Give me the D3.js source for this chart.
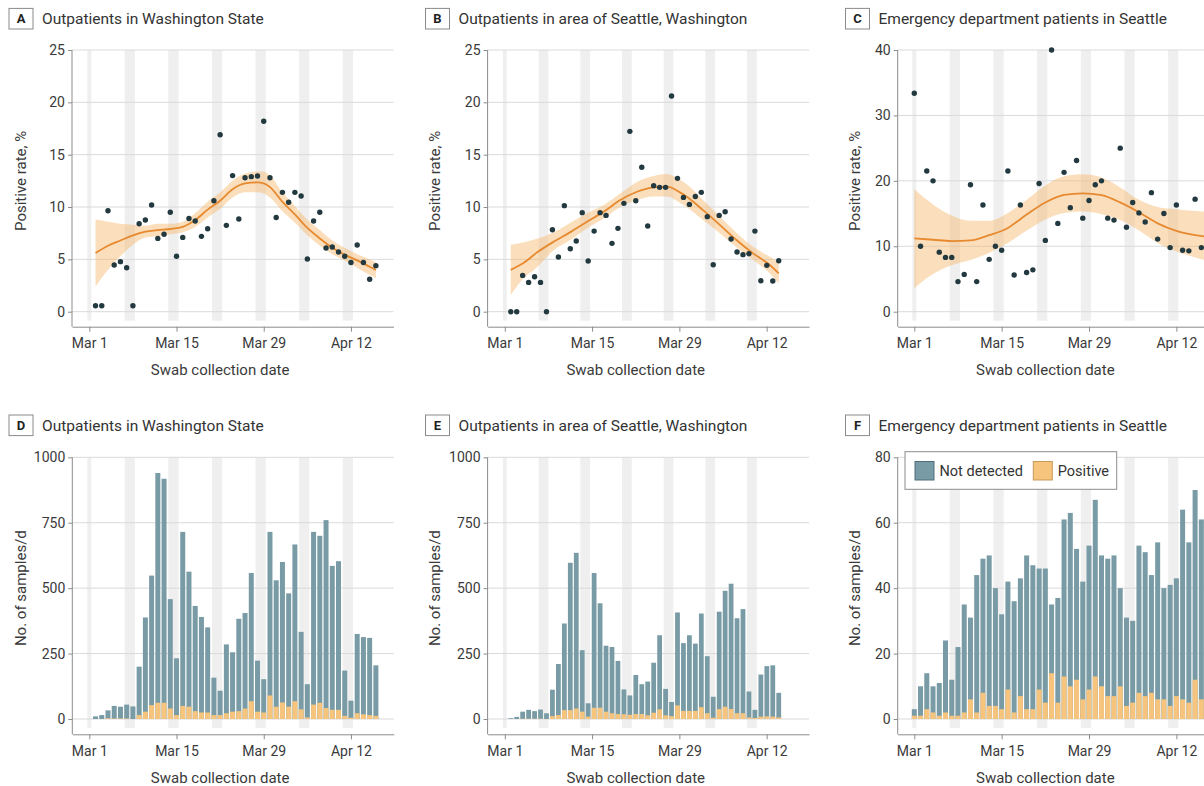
<!DOCTYPE html>
<html><head><meta charset="utf-8">
<script src="https://cdn.jsdelivr.net/npm/d3@7"></script>
<style>
body{margin:0;background:#fff;}
svg{display:block;font-family:Roboto,"Noto Sans",sans-serif;}
</style></head><body>
<svg id="chart" width="1204" height="786"></svg>
<script>
// ---------------- DATA ----------------
const tickDates = ["2020-03-01","2020-03-15","2020-03-29","2020-04-12"];
const tickLabels = ["Mar 1","Mar 15","Mar 29","Apr 12"];
const weekendRanges = [["2020-03-01","2020-03-01"],["2020-03-07","2020-03-08"],["2020-03-14","2020-03-15"],
  ["2020-03-21","2020-03-22"],["2020-03-28","2020-03-29"],["2020-04-04","2020-04-05"],["2020-04-11","2020-04-12"]];
const rateTicks = [0,5,10,15,20,25];
const rateTicksC = [0,10,20,30,40];
const countTicks = [0,250,500,750,1000];
const countTicksF = [0,20,40,60,80];

// Panel A: Outpatients in Washington State (Mar 2 - Apr 16)
const rateA = [0.57,0.57,9.65,4.46,4.78,4.2,0.57,8.4,8.76,10.2,7.0,7.4,9.5,5.3,7.1,8.9,8.66,7.2,7.93,10.6,
  16.9,8.25,13.0,8.85,12.8,12.9,12.96,18.2,12.8,9.0,11.4,10.45,11.4,11.05,5.03,8.66,9.5,6.08,6.18,5.7,
  5.3,4.7,6.37,4.7,3.1,4.4];
const smoothDaysA = [1,3,5,7,9,11,13,15,17,19,21,23,25,27,28,29,31,33,35,37,39,41,43,45,46];
const smoothFitA = [5.6,6.3,6.8,7.3,7.65,7.8,7.9,8.1,8.75,9.75,10.6,11.7,12.25,12.35,12.25,11.9,10.5,9.3,8.0,7.0,6.1,5.45,4.9,4.3,4.0];
const smoothLoA  = [2.4,4.0,5.3,6.4,7.1,7.2,7.4,7.6,8.1,9.0,9.8,10.9,11.4,11.4,11.3,10.9,9.6,8.5,7.3,6.3,5.5,4.9,4.2,3.5,3.2];
const smoothHiA  = [8.8,8.6,8.4,8.3,8.2,8.4,8.4,8.6,9.4,10.5,11.4,12.5,13.2,13.4,13.4,13.0,11.4,10.1,8.8,7.8,6.8,6.1,5.5,5.0,4.7];

// Panel B: Outpatients in area of Seattle (Mar 2 - Apr 16)
const rateB = [0,0,3.47,2.8,3.34,2.8,0,7.83,5.22,10.13,6.02,6.75,9.46,4.84,7.7,9.46,9.2,6.53,7.96,10.35,
  17.23,10.6,13.8,8.18,12.04,11.88,11.88,20.6,12.74,10.92,10.25,11.0,11.4,9.08,4.49,9.2,9.55,6.94,5.7,5.45,
  5.54,7.7,2.96,4.43,2.93,4.87];
const smoothDaysB = [1,3,5.5,8.25,11,13.8,16.6,19.4,22.2,25,27.2,29.4,30.5,33.3,36.1,38.9,41.7,44.5,46];
const smoothFitB = [4.0,4.6,5.7,6.7,7.6,8.6,9.55,10.67,11.46,11.88,11.94,11.4,11.0,9.7,8.3,6.85,5.57,4.46,3.66];
const smoothLoB  = [1.6,3.1,4.3,5.9,6.85,7.96,8.9,10.0,10.67,11.0,11.0,10.4,10.0,8.76,7.5,6.15,4.94,3.66,2.7];
const smoothHiB  = [6.4,6.6,7.0,7.6,8.5,9.4,10.2,11.3,12.4,12.96,13.15,12.6,12.2,10.67,9.1,7.55,6.2,5.25,4.78];

// Panel C: Emergency department patients in Seattle (Mar 1 - Apr 16)
const rateC = [33.4,10.0,21.5,20.0,9.1,8.3,8.3,4.6,5.7,19.4,4.6,16.3,8.0,10.0,9.4,21.5,5.6,16.3,6.0,6.4,
  19.6,10.9,40.0,13.5,21.3,15.9,23.1,14.3,17.0,19.4,20.0,14.3,14.0,25.0,12.9,16.7,15.1,13.7,18.2,11.1,
  15.0,9.8,16.3,9.4,9.3,17.2,9.8];
const smoothDaysC = [0,3,6,9,12,15,18,21,24,27,30,33,36,39,42,45,46.5];
const smoothFitC = [11.2,11.0,10.8,10.9,11.7,12.8,14.85,16.7,17.85,18.1,17.8,16.7,15.2,13.5,12.35,11.7,11.5];
const smoothLoC  = [3.6,5.75,7.1,7.9,9.0,10.5,12.4,14.1,15.1,15.3,14.9,14.0,12.4,10.5,9.2,8.3,7.9];
const smoothHiC  = [18.7,16.4,14.7,13.9,13.9,15.1,17.1,19.3,20.7,21.0,20.5,19.0,17.1,16.0,15.65,15.4,15.3];

// Panel D: samples/day, Washington State (Mar 2 - Apr 16)
const totalD = [10,15,33,50,47,55,48,200,388,548,940,918,458,232,715,563,432,390,350,158,
  108,285,255,383,405,558,223,152,715,530,600,480,667,333,133,715,700,760,585,603,
  185,70,325,313,310,205];
const positiveD = [0,0,3,2,2,2,0,15,28,53,62,62,40,15,50,47,30,25,25,15,
  15,22,28,30,40,68,28,25,90,47,63,47,68,37,6,55,62,42,35,35,
  12,5,22,18,15,12];

// Panel E: samples/day, Seattle area (Mar 2 - Apr 16)
const totalE = [3,8,28,35,30,36,22,112,210,365,597,635,263,60,558,442,280,275,222,113,
  90,168,133,143,215,320,115,65,407,290,320,288,403,240,85,410,490,517,385,420,
  105,35,170,202,205,100];
const positiveE = [0,0,1,1,1,1,0,11,15,34,34,40,28,9,43,43,28,22,19,18,
  16,19,19,14,24,37,14,11,52,31,31,31,45,22,5,38,47,38,22,22,
  6,4,9,10,9,6];

// Panel F: samples/day, ED Seattle (Mar 1 - Apr 16)
const totalF = [3,10,14,10,11,24,12,22,35,31,44,49,50,40,32,42,36,43,50,47,
  46,46,35,37,61,63,52,42,53,67,50,49,50,40,31,30,53,51,44,54,
  40,41,43,64,54,70,61];
const positiveF = [1,1,3,2,1,2,1,1,2,6,2,8,4,4,3,9,2,7,3,3,
  9,5,14,5,13,10,12,6,9,13,10,7,7,10,4,5,8,7,8,6,
  6,4,7,6,5,12,6];

const legendLabels = ["Not detected","Positive"];

// ---------------- SETUP ----------------
const parseDate = d3.timeParse("%Y-%m-%d");
const DAY = 864e5;
const mar1 = parseDate("2020-03-01");
const dayDate = n => new Date(+mar1 + n*DAY);
const shift = (d, n) => new Date(+d + n*DAY);
const datesFrom2 = d3.timeDay.range(parseDate("2020-03-02"), parseDate("2020-04-17"));
const datesFrom1 = d3.timeDay.range(parseDate("2020-03-01"), parseDate("2020-04-17"));

const COL = {dot:"#22393f", line:"#e6892f", band:"#f7b96b", wk:"#efefef", grid:"#dadada",
  axis:"#8c8c8c", text:"#3a3a3a", teal:"#789ba5", orange:"#f6c47c"};

const svg = d3.select("#chart");
svg.append("rect").attr("width",1204).attr("height",786).attr("fill","#fff");
const W = 321.5;
const TOP = {plotTop:50, zeroY:311.7, axisY:326.7, titleY:18.7};
const BOT = {plotTop:457.3, zeroY:719, axisY:734.3, titleY:425.3};

function makeX(p, pitch){
  return d3.scaleTime()
    .domain([dayDate(-(p.mar1X - p.left)/pitch), dayDate((p.left + W - p.mar1X)/pitch)])
    .range([p.left, p.left + W]);
}

function drawFrame(p, y, yTicks){
  const r = p.row;
  const g = svg.append("g");
  const xT = makeX(p, p.tickPitch), xD = makeX(p, p.dataPitch);
  // title
  g.append("rect").attr("x", p.boxX).attr("y", r.titleY - 10.3).attr("width", 24).attr("height", 20.6)
    .attr("fill","#fff").attr("stroke","#8a8a8a").attr("stroke-width",1);
  g.append("text").attr("x", p.boxX + 12).attr("y", r.titleY).attr("dy","0.36em").attr("text-anchor","middle")
    .attr("font-size",13).attr("font-weight","bold").attr("fill","#222").text(p.id);
  g.append("text").attr("x", p.boxX + 33).attr("y", r.titleY).attr("dy","0.36em")
    .attr("font-size",15.5).attr("fill","#333").text(p.title);
  // weekend bands
  g.selectAll(".wk").data(weekendRanges).join("rect")
    .attr("x", d => xD(shift(parseDate(d[0]), -0.32)))
    .attr("width", d => xD(shift(parseDate(d[1]), 0.32)) - xD(shift(parseDate(d[0]), -0.32)))
    .attr("y", r.plotTop).attr("height", r.zeroY - r.plotTop + 9)
    .attr("fill", COL.wk);
  // gridlines
  g.selectAll(".grid").data(yTicks).join("line")
    .attr("x1", p.left).attr("x2", p.left + W)
    .attr("y1", d => y(d)).attr("y2", d => y(d))
    .attr("stroke", COL.grid).attr("stroke-width",1);
  // left axis
  const ya = g.append("g").attr("transform", `translate(${p.left},0)`)
    .call(d3.axisLeft(y).tickValues(yTicks).tickFormat(d3.format("d")).tickSize(4).tickPadding(3));
  ya.select(".domain").remove();
  ya.selectAll("line").attr("stroke", COL.axis);
  ya.selectAll("text").attr("font-size",14).attr("fill",COL.text).attr("font-family","Roboto");
  g.append("line").attr("x1",p.left).attr("x2",p.left).attr("y1",r.plotTop).attr("y2",r.axisY)
    .attr("stroke",COL.axis);
  // bottom axis
  const xa = g.append("g").attr("transform", `translate(0,${r.axisY})`)
    .call(d3.axisBottom(xT).tickValues(tickDates.map(parseDate)).tickFormat((d,i)=>tickLabels[i])
      .tickSize(5).tickSizeOuter(0).tickPadding(6.6));
  xa.select(".domain").attr("stroke", COL.axis);
  xa.selectAll("line").attr("stroke", COL.axis);
  xa.selectAll("text").attr("font-size",14).attr("fill",COL.text).attr("font-family","Roboto");
  // axis titles
  g.append("text").attr("x", (xT(parseDate(tickDates[0])) + xT(parseDate(tickDates[3])))/2)
    .attr("y", r.axisY + 43).attr("dy","0.36em").attr("text-anchor","middle")
    .attr("font-size",15).attr("fill",COL.text).text("Swab collection date");
  g.append("text").attr("transform", `translate(${p.yTitleX},${(r.plotTop + r.zeroY)/2}) rotate(-90)`)
    .attr("dy","0.36em").attr("text-anchor","middle")
    .attr("font-size",15).attr("fill",COL.text).text(p.yTitle);
  return {g, xD};
}

function drawScatter(p){
  const r = p.row;
  const y = d3.scaleLinear().domain([0, p.yMax]).range([r.zeroY, r.plotTop]);
  const {g, xD} = drawFrame(p, y, p.yTicks);
  const sm = p.sDays.map((d,i) => ({x: dayDate(d), f: p.sFit[i], lo: p.sLo[i], hi: p.sHi[i]}));
  g.append("path").datum(sm)
    .attr("d", d3.area().x(d => xD(d.x)).y0(d => y(d.lo)).y1(d => y(d.hi)).curve(d3.curveMonotoneX))
    .attr("fill", COL.band).attr("fill-opacity", 0.45);
  g.append("path").datum(sm)
    .attr("d", d3.line().x(d => xD(d.x)).y(d => y(d.f)).curve(d3.curveMonotoneX))
    .attr("fill","none").attr("stroke", COL.line).attr("stroke-width",1.8);
  g.selectAll(".pt").data(p.values.map((v,i)=>({d:p.dates[i], v}))).join("circle")
    .attr("cx", d => xD(d.d)).attr("cy", d => y(d.v)).attr("r", 2.7).attr("fill", COL.dot);
}

function drawBars(p){
  const r = p.row;
  const y = d3.scaleLinear().domain([0, p.yMax]).range([r.zeroY, r.plotTop]);
  const {g, xD} = drawFrame(p, y, p.yTicks);
  const bw = p.dataPitch * 0.8;
  const rows = p.total.map((t,i) => ({d:p.dates[i], t, pos:p.positive[i]}));
  g.selectAll(".nd").data(rows).join("rect")
    .attr("x", d => xD(d.d) - bw/2).attr("width", bw)
    .attr("y", d => y(d.t)).attr("height", d => y(0) - y(d.t)).attr("fill", COL.teal);
  g.selectAll(".ps").data(rows).join("rect")
    .attr("x", d => xD(d.d) - bw/2).attr("width", bw)
    .attr("y", d => y(d.pos)).attr("height", d => y(0) - y(d.pos)).attr("fill", COL.orange);
  if (p.legend){
    const lg = svg.append("g");
    lg.append("rect").attr("x",905).attr("y",451.7).attr("width",211.7).attr("height",37.6)
      .attr("fill","#fff").attr("stroke","#8c8c8c");
    const items = [{x:915, c:COL.teal, s:"#4f6f78"},{x:1033.3, c:COL.orange, s:"#c59a5a"}];
    items.forEach((it,i) => {
      lg.append("rect").attr("x",it.x).attr("y",461.5).attr("width",19).attr("height",18.5)
        .attr("fill",it.c).attr("stroke",it.s);
      lg.append("text").attr("x",it.x + 24.5).attr("y",470.7).attr("dy","0.36em")
        .attr("font-size",14.5).attr("fill","#333").text(legendLabels[i]);
    });
  }
}

const AD = {left:72, mar1X:89.3, tickPitch:6.23, dataPitch:6.23, boxX:9, yTitleX:20.7};
const BE = {left:487.6, mar1X:504.8, tickPitch:6.235, dataPitch:5.955, boxX:425.5, yTitleX:435};
const CF = {left:897.7, mar1X:914.3, tickPitch:6.24, dataPitch:6.24, boxX:845.5, yTitleX:855};

drawScatter({...AD, id:"A", title:"Outpatients in Washington State", row:TOP, yTitle:"Positive rate, %",
  yMax:25, yTicks:rateTicks, dates:datesFrom2, values:rateA,
  sDays:smoothDaysA, sFit:smoothFitA, sLo:smoothLoA, sHi:smoothHiA});
drawScatter({...BE, id:"B", title:"Outpatients in area of Seattle, Washington", row:TOP, yTitle:"Positive rate, %",
  yMax:25, yTicks:rateTicks, dates:datesFrom2, values:rateB,
  sDays:smoothDaysB, sFit:smoothFitB, sLo:smoothLoB, sHi:smoothHiB});
drawScatter({...CF, id:"C", title:"Emergency department patients in Seattle", row:TOP, yTitle:"Positive rate, %",
  yMax:40, yTicks:rateTicksC, dates:datesFrom1, values:rateC,
  sDays:smoothDaysC, sFit:smoothFitC, sLo:smoothLoC, sHi:smoothHiC});
drawBars({...AD, left:72.3, id:"D", title:"Outpatients in Washington State", row:BOT, yTitle:"No. of samples/d",
  yMax:1000, yTicks:countTicks, dates:datesFrom2, total:totalD, positive:positiveD});
drawBars({...BE, id:"E", title:"Outpatients in area of Seattle, Washington", row:BOT, yTitle:"No. of samples/d",
  yMax:1000, yTicks:countTicks, dates:datesFrom2, total:totalE, positive:positiveE});
drawBars({...CF, id:"F", title:"Emergency department patients in Seattle", row:BOT, yTitle:"No. of samples/d",
  yMax:80, yTicks:countTicksF, dates:datesFrom1, total:totalF, positive:positiveF, legend:true});
</script></body></html>
